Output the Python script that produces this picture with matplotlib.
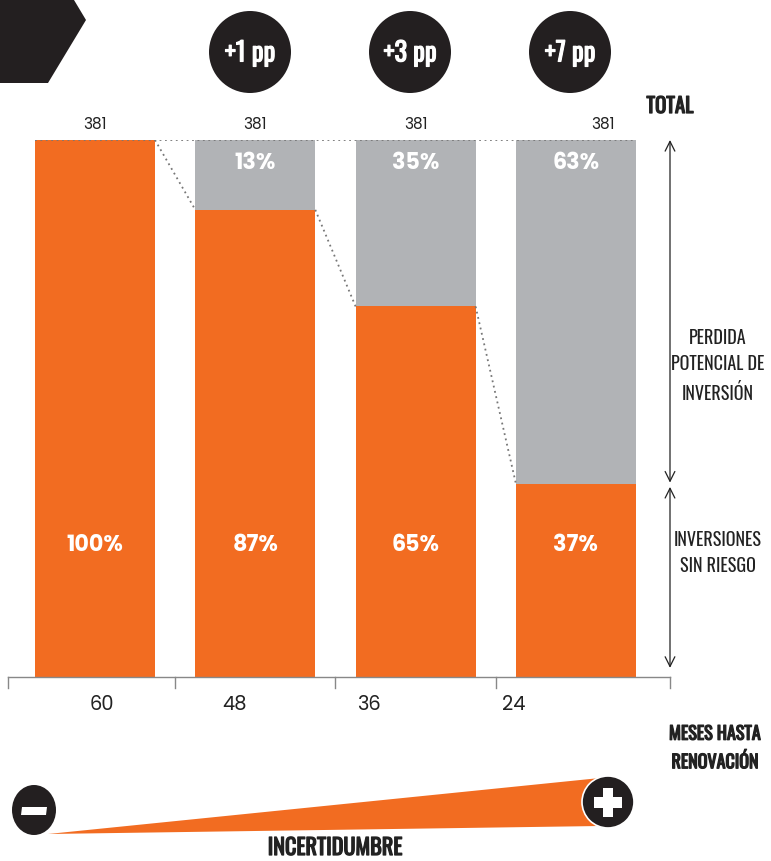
import matplotlib.pyplot as plt
from matplotlib.patches import Polygon, Ellipse
import matplotlib.patheffects as pe
import logging

logging.getLogger("matplotlib.font_manager").setLevel(logging.ERROR)

# data
meses = ["60", "48", "36", "24"]
totales = ["381", "381", "381", "381"]
sin_riesgo = [100, 87, 69, 36]          # bar heights as drawn
etiq_sin_riesgo = ["100%", "87%", "65%", "37%"]
etiq_perdida = ["", "13%", "35%", "63%"]
incrementos = ["+1 pp", "+3 pp", "+7 pp"]

ORANGE = "#F26C21"
GRAY = "#B1B3B6"
BLACK = "#231F20"
TXT = "#222222"

NARROW = ["Oswald", "Roboto Condensed", "Liberation Sans Narrow", "DejaVu Sans"]
ROUND = ["Poppins", "Lato", "DejaVu Sans"]

W, H = 771, 861
fig = plt.figure(figsize=(W / 100, H / 100), dpi=100)

# pixel coords (from top-left) -> figure fraction
def fx(x):
    return x / W

def fy(y):
    return 1 - y / H

def heavy(color, w=0.9):
    # condensed font only ships one weight, thicken it with a stroke
    return [pe.withStroke(linewidth=w, foreground=color)]

# main bar axes, spans pixel x 8..670, y 140..677
ax = fig.add_axes([fx(8), fy(677), (670 - 8) / W, 537 / H])
xs = list(range(len(meses)))
step = 160.3
ax.set_xlim((8 - 95) / step, (670 - 95) / step)
ax.set_ylim(0, 100)
width = 120 / step

ax.bar(xs, sin_riesgo, width=width, color=ORANGE, zorder=2)
ax.bar(xs, [100 - v for v in sin_riesgo], bottom=sin_riesgo, width=width, color=GRAY, zorder=2)

for s in ["top", "right", "left"]:
    ax.spines[s].set_visible(False)
ax.spines["bottom"].set_color("#888888")
ax.spines["bottom"].set_linewidth(1)
ax.set_yticks([])
ax.set_xticks([])

# tick marks at group boundaries
xl = ax.get_xlim()
for t in [xl[0], 0.5, 1.5, 2.5, xl[1]]:
    ax.plot([t, t], [0, -2], color="#888888", lw=1, clip_on=False)

# tick labels (slightly offset from bar centres as in the original)
lab_off = [0.04, -0.13, -0.29, -0.39]
for i, m in enumerate(meses):
    ax.text(i + lab_off[i], -5.2, m, ha="center", va="center", fontsize=14,
            family=ROUND, color=TXT, clip_on=False)

# dotted top line and connectors
dot = (0, (1, 2))
ax.plot([xs[0] - width / 2, xs[-1] + width / 2], [100, 100], ls=dot,
        color="#777777", lw=1.3, zorder=3)
for i in range(len(xs) - 1):
    ax.plot([i + width / 2, i + 1 - width / 2], [sin_riesgo[i], sin_riesgo[i + 1]],
            ls=dot, color="#777777", lw=1.3, zorder=3)

# value labels
tot_off = [0, 0, 0, 0.17]
for i in xs:
    ax.text(i + tot_off[i], 102.8, totales[i], ha="center", va="center", fontsize=11,
            family=ROUND, color=TXT)
    ax.text(i, 24.5, etiq_sin_riesgo[i], ha="center", va="center", fontsize=16,
            family=ROUND, weight="bold", color="white", zorder=4)
    if etiq_perdida[i]:
        ax.text(i, 95.6, etiq_perdida[i], ha="center", va="center", fontsize=16,
                family=ROUND, weight="bold", color="white", zorder=4)

# right side double arrows
split = sin_riesgo[-1]
xa = xl[1]
arr = dict(arrowstyle="<->,head_length=0.7,head_width=0.35", lw=0.9, color=TXT,
           shrinkA=0, shrinkB=0)
ax.annotate("", xy=(xa, 100), xytext=(xa, split + 0.2), arrowprops=arr,
            annotation_clip=False)
ax.annotate("", xy=(xa, split - 0.6), xytext=(xa, 1.7), arrowprops=arr,
            annotation_clip=False)

# decoration in a full-figure overlay, pixel coordinates
ov = fig.add_axes([0, 0, 1, 1], zorder=5)
ov.set_xlim(0, W)
ov.set_ylim(H, 0)
ov.axis("off")

ov.add_patch(Polygon([(0, 0), (74, 0), (86, 20), (48, 83), (0, 83)], closed=True,
                     color=BLACK, lw=0))

for i, txt in enumerate(incrementos):
    cx = [250, 410, 570][i]
    ov.add_patch(Ellipse((cx, 52), 82, 82, color=BLACK, lw=0))
    ov.text(cx, 53, txt, ha="center", va="center", color="white", fontsize=19,
            family=NARROW, path_effects=heavy("white", 0.8))

ov.text(670, 106, "TOTAL", ha="center", va="center", fontsize=15,
        family=NARROW, color=TXT, path_effects=heavy(TXT))
ov.text(718, 366, "PERDIDA\nPOTENCIAL DE\nINVERSIÓN", ha="center", va="center",
        fontsize=13, family=NARROW, weight="light", color=TXT, linespacing=1.55)
ov.text(718, 553, "INVERSIONES\nSIN RIESGO", ha="center", va="center",
        fontsize=13, family=NARROW, weight="light", color=TXT, linespacing=1.55)
ov.text(715, 748, "MESES HASTA\nRENOVACIÓN", ha="center", va="center",
        fontsize=13, family=NARROW, color=TXT, linespacing=1.5, path_effects=heavy(TXT))

# uncertainty wedge
ov.add_patch(Polygon([(48, 834), (600, 778), (600, 826)], closed=True, color=ORANGE, lw=0))
ov.add_patch(Ellipse((34, 810), 44, 50, color=BLACK, lw=0))
ov.add_patch(Polygon([(22, 807), (47, 807), (46, 815), (21, 815)], closed=True, color="white", lw=0))
ov.add_patch(Ellipse((608, 802), 52, 52, color=BLACK, lw=0))
ov.add_patch(Ellipse((608, 802), 52, 52, fill=False, ec="white", lw=1.2))
ov.add_patch(Polygon([(594, 797), (622, 797), (622, 808), (594, 808)], closed=True, color="white", lw=0))
ov.add_patch(Polygon([(603, 788), (613, 788), (613, 817), (603, 817)], closed=True, color="white", lw=0))
ov.text(335, 848, "INCERTIDUMBRE", ha="center", va="center", fontsize=16,
        family=NARROW, color=TXT, path_effects=heavy(TXT))

fig.savefig("out.png", dpi=100)
